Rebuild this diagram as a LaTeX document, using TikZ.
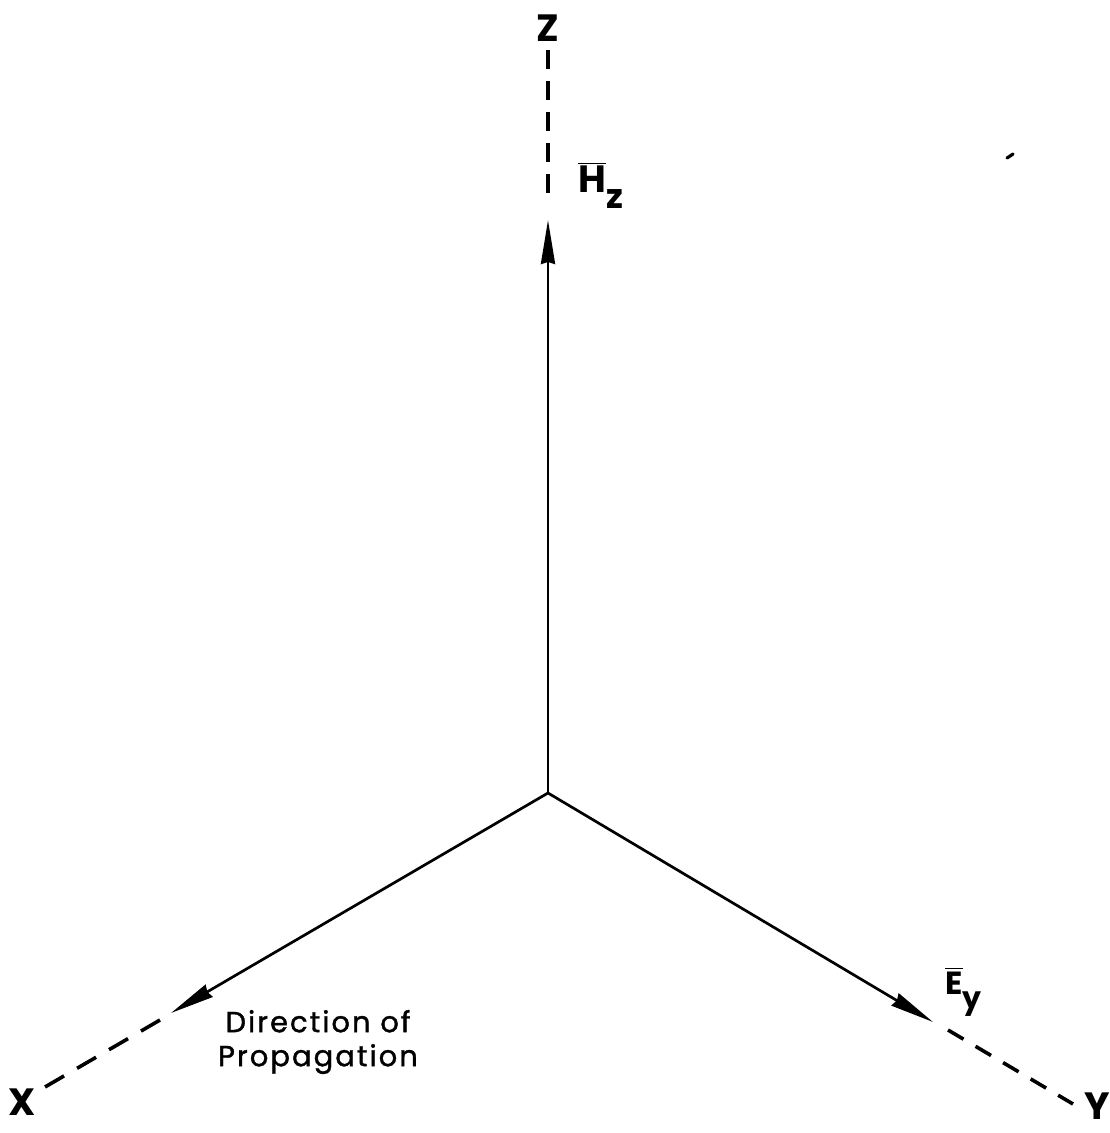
\documentclass[tikz,border=0pt]{standalone}
\usepackage{fontspec}
\setmainfont{Poppins}
\newfontfamily\spacedfont[LetterSpace=7, FakeBold=1.3]{Poppins}
\usetikzlibrary{arrows.meta}
\tikzset{
  axis/.style={line width=1.35pt},
  zdash/.style={line width=1.8pt, dash pattern=on 9.5pt off 6pt},
  xdash/.style={line width=1.8pt, dash pattern=on 11pt off 7.5pt},
  ydash/.style={line width=1.8pt, dash pattern=on 9pt off 7pt},
  vectip/.style={-{Stealth[length=22pt,width=7pt,inset=1pt]}},
  axlabel/.style={font=\fontsize{19}{21}\selectfont\bfseries, inner sep=0pt},
  veclabel/.style={font=\fontsize{19}{21}\selectfont\bfseries, inner sep=0pt},
  note/.style={font=\fontsize{14.5}{17}\selectfont\spacedfont, align=center, inner sep=0pt}
}
\begin{document}
\begin{tikzpicture}[x=0.5pt,y=-0.5pt]
\useasboundingbox (0,0) rectangle (1109,1133);
% coordinates
\coordinate (O) at (548,793);
\coordinate (zt) at (548,220);
\coordinate (zd1) at (548,193);
\coordinate (zd2) at (548,48);
\coordinate (xt) at (171,1013);
\coordinate (xd1) at (160,1020);
\coordinate (xd2) at (45,1087);
\coordinate (yt) at (933,1022);
\coordinate (yd1) at (948,1030);
\coordinate (yd2) at (1073,1104);
% solid vectors
\draw[axis,vectip] (O) -- (zt);
\draw[axis,vectip] (O) -- (xt);
\draw[axis,vectip] (O) -- (yt);
% dashed continuations
\draw[zdash] (zd1) -- (zd2);
\draw[xdash] (xd1) -- (xd2);
\draw[ydash] (yd1) -- (yd2);
% axis labels
\node[axlabel] (zl) at (548,28) {Z};
\node[axlabel] (xl) at (22,1102) {X};
\node[axlabel] (yl) at (1097,1106) {Y};
% vector labels
\node[veclabel, anchor=base west] (hz) at (578,193) {$\overline{\mbox{H}}$\raisebox{-8pt}{\fontsize{17}{19}\selectfont z}};
\node[veclabel, anchor=base west] (ey) at (945,994) {$\overline{\mbox{\fontsize{16}{18}\selectfont E}}$\raisebox{-7pt}{\fontsize{15}{17}\selectfont y}};
% note
\node[note] (prop) at (318,1042) {Direction of\\Propagation};
% scan speck
\draw[line width=1.6pt, line cap=round] (1007,158) -- (1013,154);
\end{tikzpicture}
\end{document}
